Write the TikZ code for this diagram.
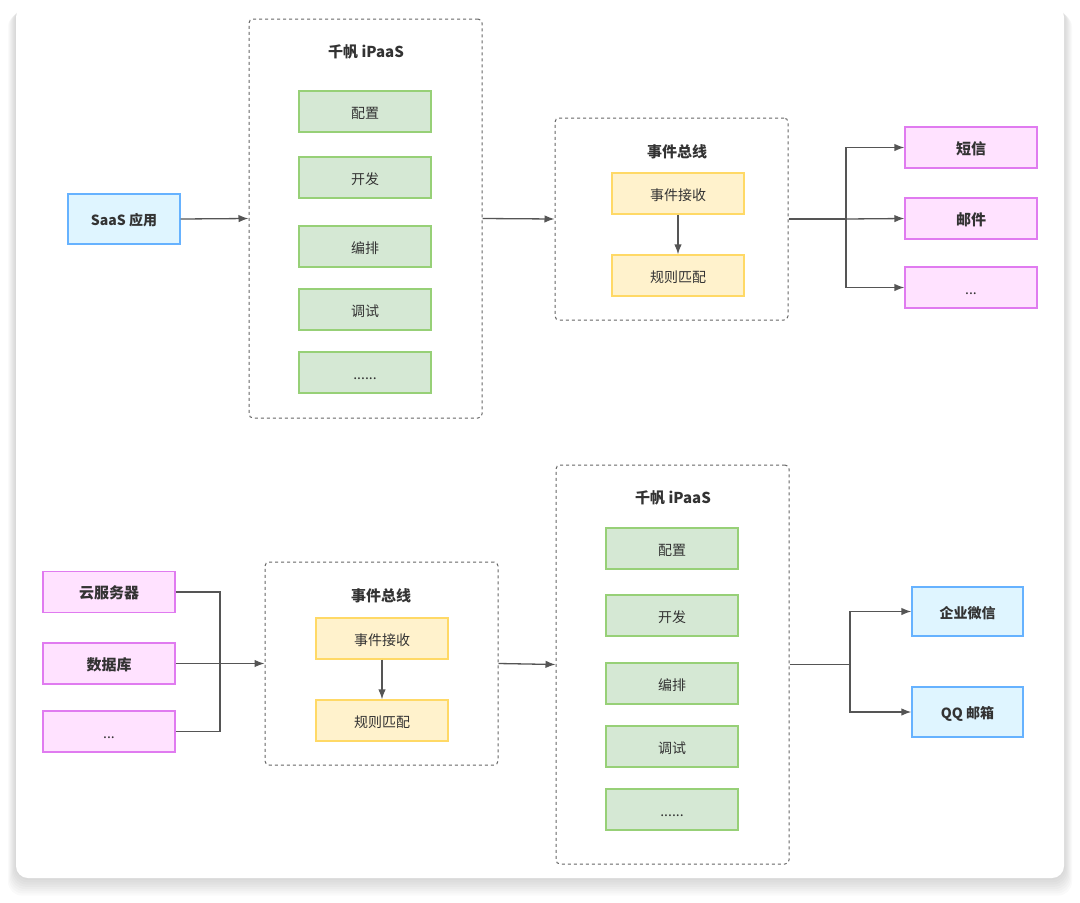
\documentclass[tikz,border=0pt]{standalone}
\usepackage{fontspec}
\setmainfont{Noto Sans CJK SC}
\usetikzlibrary{arrows.meta}
\definecolor{txt}{HTML}{333333}
\definecolor{ln}{HTML}{555555}
\definecolor{bluef}{HTML}{DFF5FF}
\definecolor{blued}{HTML}{66B2FF}
\definecolor{greenf}{HTML}{D5E8D4}
\definecolor{greend}{HTML}{97D077}
\definecolor{yelf}{HTML}{FFF2CC}
\definecolor{yeld}{HTML}{FFD966}
\definecolor{pinkf}{HTML}{FFE2FF}
\definecolor{pinkd}{HTML}{E07BF0}
\definecolor{dashc}{HTML}{666666}
\tikzset{
  basebox/.style={draw, line width=1.3pt, minimum width=132pt, minimum height=41pt, inner sep=0pt, text height=13.5pt, text depth=0pt, text=txt, font=\fontsize{14}{16}\selectfont},
  bluebox/.style={basebox, fill=bluef, draw=blued, font=\fontsize{14}{16}\selectfont\bfseries},
  greenbox/.style={basebox, fill=greenf, draw=greend},
  yelbox/.style={basebox, fill=yelf, draw=yeld},
  pinkbox/.style={basebox, fill=pinkf, draw=pinkd, font=\fontsize{15}{17}\selectfont\bfseries},
  pinkmore/.style={pinkbox, font=\fontsize{14}{16}\selectfont},
  container/.style={draw=dashc, line width=1pt, dash pattern=on 3pt off 3pt, rounded corners=4pt, inner sep=0pt},
  ctitle/.style={text=txt, font=\fontsize{15}{17}\selectfont\bfseries, inner sep=0pt, text height=14pt, text depth=0pt},
  wire/.style={draw=ln, line width=1.3pt},
  arr/.style={wire, -{Latex[length=10pt,width=7.5pt]}},
}
\begin{document}
\begin{tikzpicture}[x=1pt,y=-1pt]
\useasboundingbox (0,0) rectangle (1080,903);
% card shadow
\foreach \i/\o in {1/0.020,2/0.020,3/0.020,4/0.020,5/0.020,6/0.020,7/0.020,8/0.020}{
  \fill[black, opacity=\o, rounded corners=14pt] (16-\i,5+\i) rectangle (1064+\i,878+\i*2.2);
}
\fill[white, rounded corners=12pt] (16,5) rectangle (1064,878);

% ---------- top row ----------
\node[bluebox, minimum width=112pt, minimum height=50pt] (saas) at (124,219) {SaaS 应用};

\node[container, minimum width=233pt, minimum height=399pt] (ip1) at (365.5,218.5) {};
\node[ctitle] (ip1t) at (366,50) {千帆 iPaaS};
\node[greenbox] (g11) at (365,111.5) {配置};
\node[greenbox] (g12) at (365,177.5) {开发};
\node[greenbox] (g13) at (365,246.5) {编排};
\node[greenbox] (g14) at (365,309.5) {调试};
\node[greenbox] (g15) at (365,372.5) {......};

\node[container, minimum width=233pt, minimum height=202pt] (eb1) at (671.5,219) {};
\node[ctitle] (eb1t) at (677,150) {事件总线};
\node[yelbox] (r11) at (678,193.5) {事件接收};
\node[yelbox] (r12) at (678,275.5) {规则匹配};

\node[pinkbox] (sms) at (971,147.5) {短信};
\node[pinkbox] (mail) at (971,218.5) {邮件};
\node[pinkmore] (more1) at (971,287.5) {...};

\draw[arr] (saas.east) -- (ip1.west);
\draw[arr] (ip1.east) -- (eb1.west);
\draw[arr] (r11.south) -- (r12.north);
\coordinate (j1) at (846,219);
\draw[wire] (eb1.east) -- (j1);
\draw[arr] (j1) |- (sms.west);
\draw[arr] (j1) -- (mail.west);
\draw[arr] (j1) |- (more1.west);

% ---------- bottom row ----------
\node[pinkbox] (cloud) at (109,592) {云服务器};
\node[pinkbox] (db) at (109,663.5) {数据库};
\node[pinkmore] (more2) at (109,731.5) {...};

\node[container, minimum width=233pt, minimum height=203pt] (eb2) at (381.5,663.5) {};
\node[ctitle] (eb2t) at (381,594) {事件总线};
\node[yelbox] (r21) at (382,638.5) {事件接收};
\node[yelbox] (r22) at (382,720.5) {规则匹配};

\node[container, minimum width=233pt, minimum height=399pt] (ip2) at (672.5,664.5) {};
\node[ctitle] (ip2t) at (673,496) {千帆 iPaaS};
\node[greenbox] (g21) at (672,548.5) {配置};
\node[greenbox] (g22) at (672,615.5) {开发};
\node[greenbox] (g23) at (672,683.5) {编排};
\node[greenbox] (g24) at (672,746.5) {调试};
\node[greenbox] (g25) at (672,809.5) {......};

\node[bluebox, minimum width=111pt, minimum height=49pt] (wx) at (967.5,611.5) {企业微信};
\node[bluebox, minimum width=111pt, minimum height=50pt] (qq) at (967.5,712) {QQ 邮箱};

\coordinate (j2) at (220,663.5);
\draw[wire] (cloud.east) -| (j2);
\draw[wire] (more2.east) -| (j2);
\draw[arr] (db.east) -- (eb2.west);
\draw[arr] (r21.south) -- (r22.north);
\draw[arr] (eb2.east) -- (ip2.west);
\coordinate (j3) at (850,664.5);
\draw[wire] (ip2.east) -- (j3);
\draw[arr] (j3) |- (wx.west);
\draw[arr] (j3) |- (qq.west);
\end{tikzpicture}
\end{document}
